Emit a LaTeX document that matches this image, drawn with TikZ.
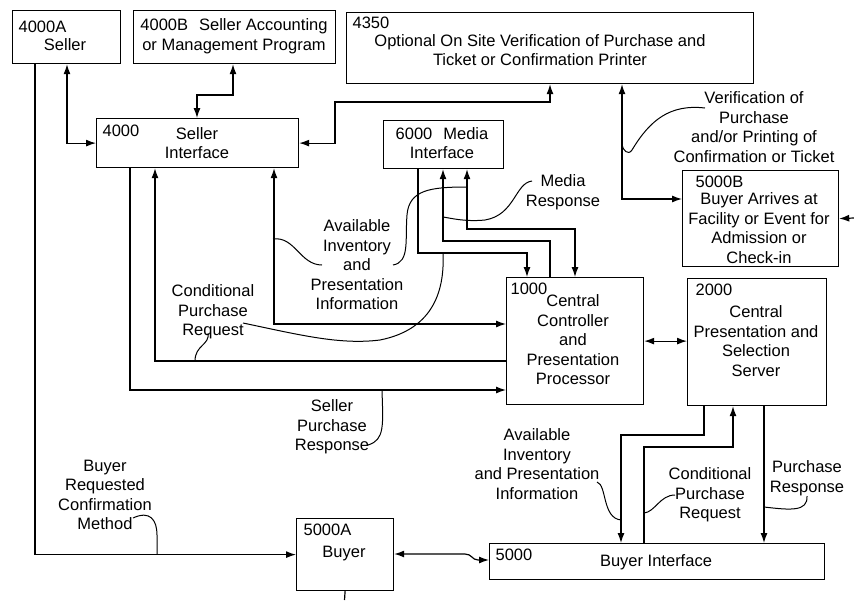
\documentclass[tikz,border=0pt]{standalone}
\usepackage{fontspec}
\setmainfont{Liberation Sans}
\usetikzlibrary{arrows.meta}
\begin{document}
\begin{tikzpicture}[x=1pt,y=-1pt, line width=1.2pt,
  box/.style={draw, inner sep=0pt, anchor=north west},
  txt/.style={font=\fontsize{16.5}{19.5}\selectfont, align=center, inner sep=0pt},
  idt/.style={font=\fontsize{16.5}{19.5}\selectfont, anchor=west, inner sep=0pt},
  arr/.style={-{Latex[length=10pt,width=7pt]}},
  arr2/.style={{Latex[length=10pt,width=7pt]}-{Latex[length=10pt,width=7pt]}},
  cv/.style={line width=1pt}]
\useasboundingbox (0,0) rectangle (854,600);
% boxes
\node[box, minimum width=108pt, minimum height=53pt] (sA) at (12,10) {};
\node[box, minimum width=202pt, minimum height=53pt] (sB) at (133,10) {};
\node[box, minimum width=407pt, minimum height=71pt] (ver) at (346,12) {};
\node[box, minimum width=202pt, minimum height=49pt] (si) at (96,118) {};
\node[box, minimum width=120pt, minimum height=48pt] (mi) at (383,120) {};
\node[box, minimum width=156pt, minimum height=96pt] (bb) at (682,170) {};
\node[box, minimum width=137pt, minimum height=127pt] (cc) at (506,277) {};
\node[box, minimum width=139pt, minimum height=127pt] (cps) at (687,278) {};
\node[box, minimum width=97pt, minimum height=72pt] (ba) at (296,518) {};
\node[box, minimum width=335pt, minimum height=36pt] (bi) at (489,543) {};
% box texts
\node[idt] (tA) at (18,27) {4000A};
\node[txt] (tAs) at (65,45) {Seller};
\node[txt] (tB) at (234,36) {4000B\hspace{11pt}Seller Accounting\\or Management Program};
\node[idt] (tV) at (352,23) {4350};
\node[txt] (tVs) at (540,50) {Optional On Site Verification of Purchase and\\Ticket or Confirmation Printer};
\node[idt] (tSI) at (102,131) {4000};
\node[txt] (tSIs) at (197,143) {Seller\\Interface};
\node[txt] (tMI) at (442,143) {6000\hspace{11pt}Media\\Interface};
\node[idt] (tBB) at (695,182) {5000B};
\node[txt] (tBBs) at (759,228) {Buyer Arrives at\\Facility or Event for\\Admission or\\Check-in};
\node[idt] (tCC) at (510,289) {1000};
\node[txt] (tCCs) at (573,340) {Central\\Controller\\and\\Presentation\\Processor};
\node[idt] (tCPS) at (695,290) {2000};
\node[txt] (tCPSs) at (756,341) {Central\\Presentation and\\Selection\\Server};
\node[idt] (tBA) at (303,530) {5000A};
\node[txt] (tBAs) at (344,554) {Buyer};
\node[idt] (tBI) at (495,555) {5000};
\node[txt] (tBIs) at (656,562) {Buyer Interface};
% labels
\node[txt] (lVer) at (754,127) {Verification of\\Purchase\\and/or Printing of\\Confirmation or Ticket};
\node[txt] (lMeth) at (105,495) {Buyer\\Requested\\Confirmation\\Method};
\node[txt] (lCPR1) at (213,312) {Conditional\\Purchase\\Request};
\node[txt] (lAI1) at (357,265) {Available\\Inventory\\and\\Presentation\\Information};
\node[txt] (lMR) at (563,192) {Media\\Response};
\node[txt] (lSPR) at (332,427) {Seller\\Purchase\\Response};
\node[txt] (lAI2) at (537,464) {Available\\Inventory\\and Presentation\\Information};
\node[txt] (lCPR2) at (710,495) {Conditional\\Purchase\\Request};
\node[txt] (lPR) at (807,478) {Purchase\\Response};
% connectors
\draw[arr] (35,0 |- sA.south) |- (ba.west);
\draw[arr2] (67,0 |- sA.south) |- (si.west);
\draw[arr2] (233,0 |- sB.south) |- (197,95) -- (197,0 |- si.north);
\draw[arr2] (550,0 |- ver.south) |- (335,102) |- (si.east);
\draw[arr2] (622,0 |- ver.south) |- (bb.west |- 0,199);
\draw[arr] (854,218) -- (bb.east);
\draw[arr] (418,0 |- mi.south) |- (527,253) -- (527,0 |- cc.north);
\draw[arr] (550,0 |- cc.north) |- (443,241) -- (443,0 |- mi.south);
\draw[arr2] (467,0 |- mi.south) |- (575,229) -- (575,0 |- cc.north);
\draw[arr] (130,0 |- si.south) |- (cc.west |- 0,390);
\draw[arr] (cc.west |- 0,361) -| (155,0 |- si.south);
\draw[arr2] (274,0 |- si.south) |- (cc.west |- 0,324);
\draw[arr2] (cc.east) -- (cc.east -| cps.west);
\draw[arr] (704,0 |- cps.south) |- (621,435) -- (621,0 |- bi.north);
\draw[arr] (644,0 |- bi.north) |- (733,447) -- (733,0 |- cps.south);
\draw[arr] (764,0 |- cps.south) -- (764,0 |- bi.north);
\draw[arr2] (ba.east |- 0,554) -- (465,554) .. controls (472,554) and (472,560) .. (478,560) -- (bi.west |- 0,560);
\draw (ba.south) -- (344.5,600);
% label leaders
\draw[cv] (133,518) .. controls (150,510) and (157,520) .. (157,535) -- (157,554);
\draw[cv] (705,108) .. controls (670,104) and (650,120) .. (632,150) .. controls (628,156) and (623,150) .. (622,145);
\draw[cv] (532,181) .. controls (515,183) and (515,215) .. (485,220) .. controls (465,222) and (450,218) .. (443,217);
\draw[cv] (273,239) .. controls (295,236) and (300,265) .. (322,265);
\draw[cv] (393,265) .. controls (410,262) and (405,240) .. (407,215) .. controls (409,190) and (430,187) .. (467,187);
\draw[cv] (243,323) .. controls (300,335) and (340,345) .. (380,340) .. controls (430,330) and (445,295) .. (443,253);
\draw[cv] (208,333) .. controls (210,345) and (195,345) .. (195,361);
\draw[cv] (368,445) .. controls (385,440) and (383,425) .. (382,390);
\draw[cv] (597,482) .. controls (607,485) and (602,518) .. (621,520);
\draw[cv] (675,495) .. controls (660,495) and (655,512) .. (644,513);
\draw[cv] (807,496) .. controls (808,512) and (790,510) .. (764,507);
\end{tikzpicture}
\end{document}
